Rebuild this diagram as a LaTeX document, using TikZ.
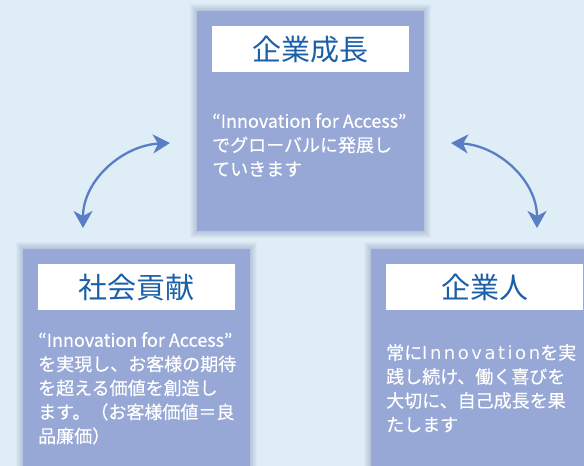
\documentclass[tikz,border=0pt]{standalone}
\usepackage{fontspec}
\setmainfont{Noto Sans CJK JP}
\newfontfamily\bodyfont{Noto Sans CJK JP}[FakeBold=0.4]
\newfontfamily\wideface{DejaVu Sans}
\usetikzlibrary{arrows.meta,positioning,backgrounds}

\definecolor{bgblue}{HTML}{DEEDF6}
\definecolor{boxblue}{HTML}{97A8D6}
\definecolor{headblue}{HTML}{1A5FA8}
\definecolor{arrowblue}{HTML}{5A7EC6}

\tikzset{
  panel/.style={fill=boxblue, minimum width=227pt, anchor=north west, inner sep=0pt},
  headbox/.style={fill=white, minimum width=197pt, minimum height=46pt, inner sep=0pt,
    text=headblue, font=\fontsize{29}{32}\selectfont},
  bodytext/.style={text=white, align=left, inner sep=0pt, anchor=north west,
    font=\bodyfont\fontsize{18}{24}\selectfont},
  cyclearrow/.style={{Stealth[length=17pt,width=19pt,inset=5pt]}-{Stealth[length=17pt,width=19pt,inset=5pt]},
    draw=arrowblue, line width=2.3pt}
}
\newcommand{\widelatin}[1]{{\wideface\addfontfeature{LetterSpace=14}#1}}

\begin{document}
\begin{tikzpicture}[x=1pt,y=1pt]
    \useasboundingbox (0,0) rectangle (584,466);

    % panels
    \node[panel, minimum height=220pt] (growth) at (197,455) {};
    \node[panel, minimum height=240pt] (social) at (23,217) {};
    \node[panel, minimum height=240pt] (person) at (371,217) {};

    % backdrop and soft shadows
    \begin{scope}[on background layer]
      \fill[bgblue] (0,0) rectangle (584,466);
      \foreach \p in {growth,social,person}
        \foreach \s in {1,...,7}
          \fill[black!60!blue, opacity=0.022]
            ([shift={(-\s pt,\s pt)}]\p.north west) rectangle ([shift={(\s pt,-\s pt)}]\p.south east);
    \end{scope}

    % titles
    \node[headbox, below right=15pt and 15pt of growth.north west] (growthhead) {企業成長};
    \node[headbox, below right=15pt and 15pt of social.north west] (socialhead) {社会貢献};
    \node[headbox, below right=15pt and 15pt of person.north west] (personhead) {企業人};

    % texts
    \node[bodytext, below right=102pt and 15pt of growth.north west] (growthtext)
      {“Innovation for Access”\\でグローバルに発展し\\ていきます};
    \node[bodytext, below right=83pt and 15pt of social.north west] (socialtext)
      {“Innovation for Access”\\を実現し、お客様の期待\\を超える価値を創造し\\ます。（お客様価値＝良\\品廉価）};
    \node[bodytext, below right=95pt and 15pt of person.north west] (persontext)
      {常に\widelatin{Innovation}を実\\践し続け、働く喜びを\\大切に、自己成長を果\\たします};

    % arrows
    \coordinate (leftlow) at (83,238);
    \coordinate (lefthigh) at (170,323);
    \coordinate (righthigh) at (451,323);
    \coordinate (rightlow) at (537,238);
    \draw[cyclearrow] (leftlow) to[out=90,in=183] (lefthigh);
    \draw[cyclearrow] (righthigh) to[out=-3,in=90] (rightlow);
\end{tikzpicture}
\end{document}
